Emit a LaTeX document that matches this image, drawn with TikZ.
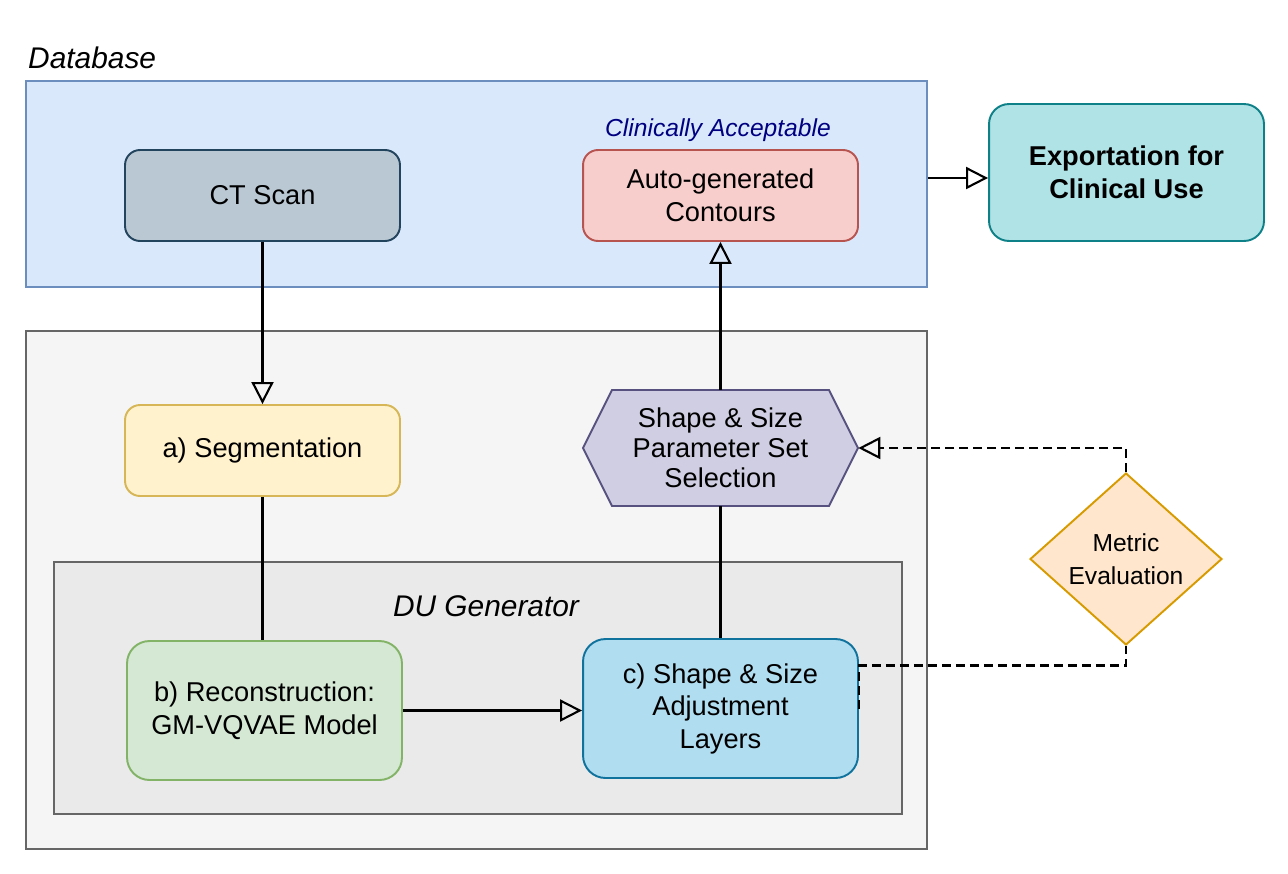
\documentclass[tikz,border=0pt]{standalone}
\usepackage{fontspec}
\setmainfont{Liberation Sans}
\usetikzlibrary{arrows.meta,shapes.geometric}
\definecolor{dbfill}{HTML}{DAE8FC}
\definecolor{dbline}{HTML}{6C8EBF}
\definecolor{ctfill}{HTML}{BAC8D3}
\definecolor{ctline}{HTML}{23445D}
\definecolor{ctrfill}{HTML}{F8CECC}
\definecolor{ctrline}{HTML}{B85450}
\definecolor{expfill}{HTML}{B0E3E6}
\definecolor{expline}{HTML}{0E8088}
\definecolor{segfill}{HTML}{FFF2CC}
\definecolor{segline}{HTML}{D6B656}
\definecolor{recfill}{HTML}{D5E8D4}
\definecolor{recline}{HTML}{82B366}
\definecolor{adjfill}{HTML}{B1DDF0}
\definecolor{adjline}{HTML}{10739E}
\definecolor{hexfill}{HTML}{D0CEE2}
\definecolor{hexline}{HTML}{56517E}
\definecolor{metfill}{HTML}{FFE6CC}
\definecolor{metline}{HTML}{D79B00}
\definecolor{grpfill}{HTML}{F5F5F5}
\definecolor{dufill}{HTML}{EAEAEA}
\definecolor{grpline}{HTML}{666666}
\definecolor{capblue}{HTML}{000080}

\begin{document}
\begin{tikzpicture}[x=0.02cm,y=-0.02cm]
                        \tikzstyle{txt}=[font=\fontsize{15.5}{18.5}\selectfont]
                        \tikzstyle{group}=[draw, line width=1.1pt, inner sep=0]
                        \tikzstyle{box}=[txt, draw, rounded corners=0.3cm, line width=1.1pt, align=center, minimum width=5.5cm, minimum height=1.82cm]
                        \tikzstyle{bigbox}=[box, rounded corners=0.45cm, minimum height=2.78cm]
                        \tikzstyle{tri}=[line width=1.2pt, -{Triangle[open, length=0.44cm, width=0.44cm]}]
                        \tikzstyle{link}=[line width=1.2pt]
                        \tikzstyle{dashlink}=[line width=1.2pt, dash pattern=on 0.18cm off 0.1cm]
                        \useasboundingbox (0,0) rectangle (1288,873);
                        \node (db) [group, draw=dbline, fill=dbfill, minimum width=18.02cm, minimum height=4.12cm] at (476.5,184) {};
                        \node (dblabel) [anchor=west, font=\fontsize{17}{20}\selectfont\itshape] at (22,58) {Database};
                        \node (grp) [group, draw=grpline, fill=grpfill, minimum width=18.02cm, minimum height=10.36cm] at (476.5,590) {};
                        \node (du) [group, draw=grpline, fill=dufill, minimum width=16.96cm, minimum height=5.04cm] at (478,688) {};
                        \node (dulabel) [font=\fontsize{17}{20}\selectfont\itshape] at (486,606) {DU Generator};
                        \node (ct) [box, draw=ctline, fill=ctfill] at (262.5,195.5) {CT Scan};
                        \node (contours) [box, draw=ctrline, fill=ctrfill] at (720.5,195.5) {Auto-generated\\Contours};
                        \node (caplabel) [font=\fontsize{14}{17}\selectfont\itshape, text=capblue] at (718,130) {Clinically Acceptable};
                        \node (export) [box, draw=expline, fill=expfill, rounded corners=0.4cm, minimum height=2.74cm, font=\fontsize{15.5}{18.5}\selectfont\bfseries] at (1126.5,172.5) {Exportation for\\Clinical Use};
                        \node (seg) [box, draw=segline, fill=segfill] at (262.5,450.5) {a) Segmentation};
                        \node (recon) [bigbox, draw=recline, fill=recfill] at (264.5,710.5) {b) Reconstruction:\\GM-VQVAE Model};
                        \node (adj) [bigbox, draw=adjline, fill=adjfill] at (720.5,708.5) {c) Shape \& Size\\Adjustment\\Layers};
                        \draw [link, line width=1.1pt, draw=hexline, fill=hexfill] (583,448) -- (612,390) -- (829,390) -- (858,448) -- (829,506) -- (612,506) -- cycle;
                        \node (hex) [font=\fontsize{15.5}{17}\selectfont, align=center, inner sep=0, minimum width=5.5cm, minimum height=2.32cm] at (720.5,448) {Shape \& Size\\Parameter Set\\Selection};
                        \node (metric) [diamond, draw=metline, fill=metfill, line width=1.1pt, align=center, inner sep=0, minimum width=3.84cm, minimum height=3.44cm, font=\fontsize{14}{19}\selectfont] at (1126,559) {Metric\\Evaluation};
                        \draw [tri] (ct.south) -- (seg.north);
                        \draw [link] (seg.south) -- (seg.south |- recon.north);
                        \draw [tri] (recon.east) -- (recon.east -| adj.west);
                        \draw [link] (adj.north) -- (hex.south);
                        \draw [tri] (hex.north) -- (contours.south);
                        \draw [tri] ([yshift=0.12cm]db.east) -- ([yshift=0.12cm]db.east -| export.west);
                        \draw [dashlink, -{Triangle[open, length=0.44cm, width=0.44cm]}] (metric.north) |- (hex.east);
                        \draw [dashlink] (adj.east) -- ++(0,-43) -| (metric.south);
\end{tikzpicture}
\end{document}
